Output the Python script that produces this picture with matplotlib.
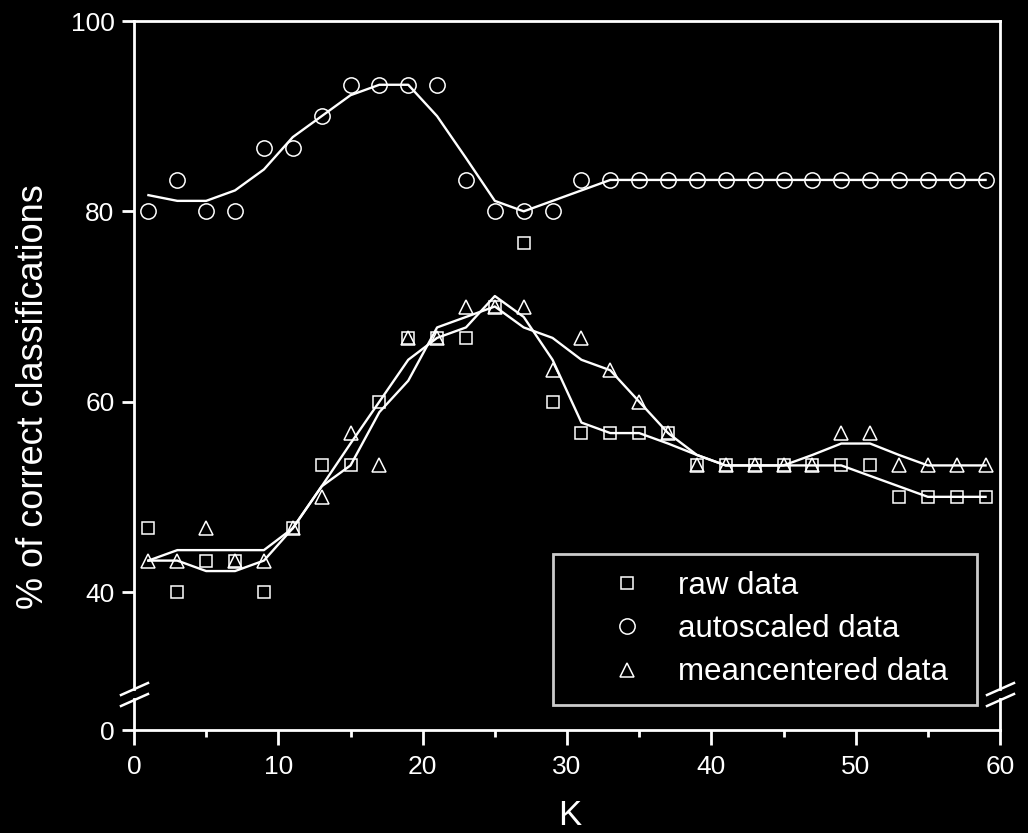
import matplotlib
matplotlib.use("Agg")
import matplotlib.pyplot as plt
from matplotlib.lines import Line2D
from matplotlib.ticker import MultipleLocator

# ---------------- data ----------------
k_values = list(range(1, 60, 2))

raw = [46.7, 40, 43.3, 43.3, 40, 46.7, 53.3, 53.3, 60, 66.7, 66.7, 66.7, 70, 76.7, 60,
       56.7, 56.7, 56.7, 56.7, 53.3, 53.3, 53.3, 53.3, 53.3, 53.3, 53.3, 50, 50, 50, 50]
autoscaled = [80, 83.3, 80, 80, 86.7, 86.7, 90, 93.3, 93.3, 93.3, 93.3, 83.3, 80, 80, 80,
              83.3, 83.3, 83.3, 83.3, 83.3, 83.3, 83.3, 83.3, 83.3, 83.3, 83.3, 83.3, 83.3, 83.3, 83.3]
meancentered = [43.3, 43.3, 46.7, 43.3, 43.3, 46.7, 50, 56.7, 53.3, 66.7, 66.7, 70, 70, 70, 63.3,
                66.7, 63.3, 60, 56.7, 53.3, 53.3, 53.3, 53.3, 53.3, 56.7, 56.7, 53.3, 53.3, 53.3, 53.3]

raw_smooth = [43.3, 43.3, 42.2, 42.2, 43.3, 46.7, 51.1, 55.6, 60, 64.4, 66.7, 67.8, 71.1, 68.9, 64.4,
              57.8, 56.7, 56.7, 55.6, 54.4, 53.3, 53.3, 53.3, 53.3, 53.3, 52.2, 51.1, 50, 50, 50]
autoscaled_smooth = [81.7, 81.1, 81.1, 82.2, 84.4, 87.8, 90, 92.2, 93.3, 93.3, 90, 85.6, 81.1, 80, 81.1,
                     82.2, 83.3, 83.3, 83.3, 83.3, 83.3, 83.3, 83.3, 83.3, 83.3, 83.3, 83.3, 83.3, 83.3, 83.3]
meancentered_smooth = [43.3, 44.4, 44.4, 44.4, 44.4, 46.7, 51.1, 53.3, 58.9, 62.2, 67.8, 68.9, 70, 67.8, 66.7,
                       64.4, 63.3, 60, 56.7, 54.4, 53.3, 53.3, 53.3, 54.4, 55.6, 55.6, 54.4, 53.3, 53.3, 53.3]

series_labels = ["raw data", "autoscaled data", "meancentered data"]
x_ticks = [0, 10, 20, 30, 40, 50, 60]
y_ticks_upper = [40, 60, 80, 100]
y_ticks_lower = [0]

# ---------------- style ----------------
FG = "white"
BG = "black"
plt.rcParams["font.family"] = ["Liberation Sans", "DejaVu Sans"]

W, H = 1028, 833
fig = plt.figure(figsize=(W / 100, H / 100), dpi=100, facecolor=BG)

def px_rect(x0, y0, x1, y1):
    return [x0 / W, 1 - y1 / H, (x1 - x0) / W, (y1 - y0) / H]

left_px, right_px = 134, 1000
ax_top = fig.add_axes(px_rect(left_px, 21, right_px, 689))
ax_bot = fig.add_axes(px_rect(left_px, 699, right_px, 730))

px_per_unit = (592 - 21) / 60.0
ax_top.set_ylim(100 - (689 - 21) / px_per_unit, 100)
ax_bot.set_ylim(0, (730 - 699) / px_per_unit)
for ax in (ax_top, ax_bot):
    ax.set_facecolor(BG)
    ax.set_xlim(0, 60)
    for s in ax.spines.values():
        s.set_color(FG)
        s.set_linewidth(2.0)

ax_top.spines["bottom"].set_visible(False)
ax_bot.spines["top"].set_visible(False)

ax_top.plot(k_values, raw_smooth, color=FG, lw=1.7, zorder=2)
ax_top.plot(k_values, autoscaled_smooth, color=FG, lw=1.7, zorder=2)
ax_top.plot(k_values, meancentered_smooth, color=FG, lw=1.7, zorder=2)
ax_top.plot(k_values, raw, ls="none", marker="s", ms=8.5, mfc="none", mec=FG, mew=1.1, zorder=3)
ax_top.plot(k_values, autoscaled, ls="none", marker="o", ms=11, mfc="none", mec=FG, mew=1.1, zorder=3)
ax_top.plot(k_values, meancentered, ls="none", marker="^", ms=10.5, mfc="none", mec=FG, mew=1.1, zorder=3)

# ticks
ax_top.set_yticks(y_ticks_upper)
ax_top.set_xticks([])
ax_top.tick_params(axis="y", direction="out", length=9, width=2, colors=FG,
                   labelsize=19, pad=5, right=False)
ax_bot.set_yticks(y_ticks_lower)
ax_bot.set_xticks(x_ticks)
ax_bot.xaxis.set_minor_locator(MultipleLocator(5))
ax_bot.tick_params(axis="y", direction="out", length=9, width=2, colors=FG,
                   labelsize=19, pad=5, right=False)
ax_bot.tick_params(axis="x", which="major", direction="out", length=11, width=2,
                   colors=FG, labelsize=19, pad=7, top=False)
ax_bot.tick_params(axis="x", which="minor", direction="out", length=5, width=2,
                   colors=FG, top=False)

# break marks
for xc in (left_px, right_px):
    for yc in (689, 700):
        fig.add_artist(Line2D([(xc - 13) / W, (xc + 14) / W],
                              [1 - (yc + 6) / H, 1 - (yc - 6) / H],
                              transform=fig.transFigure, color=FG, lw=1.8))

# axis labels
fig.text(34 / W, 1 - 397 / H, "% of correct classifications", rotation=90,
         ha="center", va="center", color=FG, fontsize=26)
fig.text(570 / W, 8 / H, "K", ha="center", va="baseline", color=FG, fontsize=25)

# legend
handles = [Line2D([], [], ls="none", marker="s", ms=8.5, mfc="none", mec=FG, mew=1.1),
           Line2D([], [], ls="none", marker="o", ms=11, mfc="none", mec=FG, mew=1.1),
           Line2D([], [], ls="none", marker="^", ms=10.5, mfc="none", mec=FG, mew=1.1)]
leg = fig.legend(handles, series_labels, loc="upper left",
                 bbox_to_anchor=(553 / W, 1 - 554 / H, (977 - 553) / W, 0.0),
                 mode="expand", fontsize=22.5,
                 frameon=True, fancybox=False, facecolor=BG, edgecolor=FG,
                 borderpad=0.55, handlelength=3.65, handletextpad=-0.2,
                 labelspacing=0.42, borderaxespad=0.0)
leg.get_frame().set_linewidth(2.0)
for t in leg.get_texts():
    t.set_color(FG)

fig.savefig("out.png", dpi=100, facecolor=BG)
